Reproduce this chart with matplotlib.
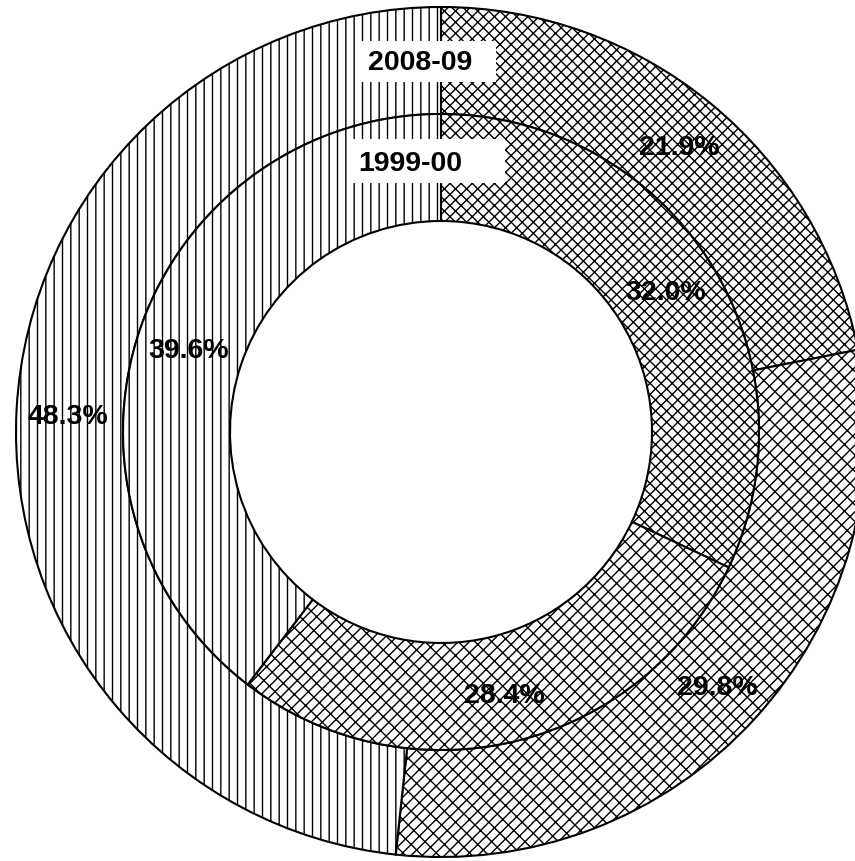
import numpy as np
import matplotlib
matplotlib.use("Agg")
import matplotlib.pyplot as plt
from matplotlib.patches import Rectangle

plt.rcParams['font.family'] = ['Liberation Sans', 'DejaVu Sans']
plt.rcParams['hatch.linewidth'] = 1.0

# data
years = ["2008-09", "1999-00"]
outer_vals = [21.9, 29.8, 48.3]   # 2008-09
inner_vals = [32.0, 28.4, 39.6]   # 1999-00
hatches = ['xxx', '///\\\\', '||']

W, H = 855, 862
fig = plt.figure(figsize=(W / 100, H / 100), dpi=100)
ax = fig.add_axes([0, 0, 1, 1])

# pixel-ish data coords, y up
cx, cy = 441, H - 433
R_out, R_mid, R_in = 425, 318, 211

wp = dict(edgecolor='black', linewidth=1.5, facecolor='white')
ax.pie(outer_vals, radius=R_out, center=(cx, cy), startangle=90,
       counterclock=False, hatch=hatches, colors=['white'] * 3,
       wedgeprops=dict(width=R_out - R_mid, **wp))
ax.pie(inner_vals, radius=R_mid, center=(cx, cy), startangle=90,
       counterclock=False, hatch=hatches, colors=['white'] * 3,
       wedgeprops=dict(width=R_mid - R_in, **wp))

ax.set_xlim(0, W)
ax.set_ylim(0, H)
ax.set_aspect('equal')
ax.axis('off')

fs = 20.5
# percentage labels (pixel positions from top-left)
outer_pos = [(679, 148), (717, 688), (68, 417)]
inner_pos = [(666, 293), (504, 696), (189, 351)]
for v, (x, y) in zip(outer_vals, outer_pos):
    ax.text(x, H - y, f"{v:.1f}%", ha='center', va='center',
            fontsize=fs, fontweight='bold', zorder=5)
for v, (x, y) in zip(inner_vals, inner_pos):
    ax.text(x, H - y, f"{v:.1f}%", ha='center', va='center',
            fontsize=fs, fontweight='bold', zorder=5)

# year labels with white boxes
boxes = [(361, 42, 135, 41), (353, 140, 152, 44)]
year_pos = [(420, 63), (410, 164)]
for lab, (bx, by, bw, bh), (x, y) in zip(years, boxes, year_pos):
    ax.add_patch(Rectangle((bx, H - by - bh), bw, bh, facecolor='white',
                           edgecolor='none', zorder=4))
    ax.text(x, H - y, lab, ha='center', va='center',
            fontsize=fs, fontweight='bold', zorder=5)

fig.savefig("out.png", dpi=100)
